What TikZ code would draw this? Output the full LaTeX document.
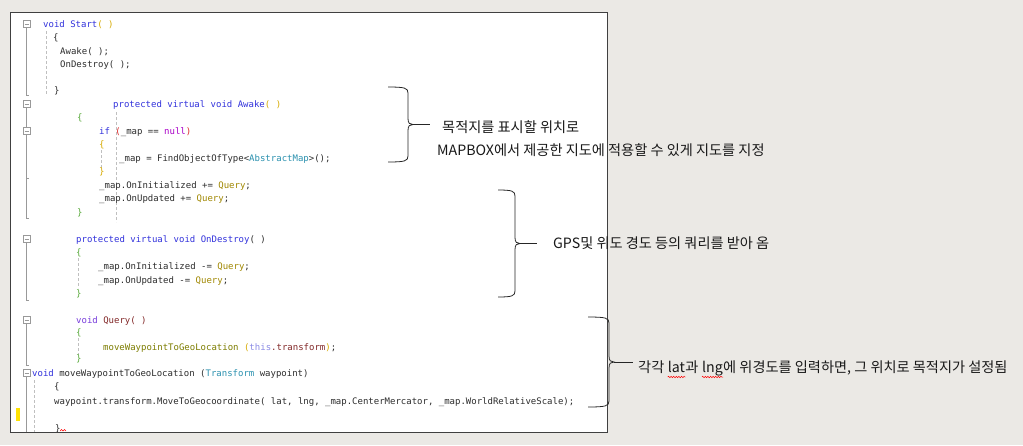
\documentclass[tikz,border=0pt]{standalone}
\usepackage{fontspec}
\setmonofont{DejaVu Sans Mono}
\newfontfamily\kr{Noto Sans CJK KR}
\usetikzlibrary{decorations.pathmorphing}

\definecolor{paper}{RGB}{235,233,229}
\definecolor{ink}{RGB}{45,45,45}
\definecolor{kwblue}{RGB}{50,50,220}
\definecolor{vpurple}{RGB}{120,60,220}
\definecolor{gold}{RGB}{215,170,0}
\definecolor{bgreen}{RGB}{90,170,60}
\definecolor{tyteal}{RGB}{43,145,175}
\definecolor{evolive}{RGB}{160,135,0}
\definecolor{fnolive}{RGB}{125,125,0}
\definecolor{nupurple}{RGB}{170,0,200}
\definecolor{dred}{RGB}{130,40,40}
\definecolor{thlav}{RGB}{140,140,230}
\definecolor{pred}{RGB}{220,40,40}

\newcommand\ckw[1]{\textcolor{kwblue}{#1}}
\newcommand\cvo[1]{\textcolor{vpurple}{#1}}
\newcommand\cpa[1]{\textcolor{gold}{#1}}
\newcommand\cbr[1]{\textcolor{bgreen}{#1}}
\newcommand\cty[1]{\textcolor{tyteal}{#1}}
\newcommand\cev[1]{\textcolor{evolive}{#1}}
\newcommand\cfn[1]{\textcolor{fnolive}{#1}}
\newcommand\cnu[1]{\textcolor{nupurple}{#1}}
\newcommand\cdr[1]{\textcolor{dred}{#1}}
\newcommand\cth[1]{\textcolor{thlav}{#1}}
\newcommand\cre[1]{\textcolor{pred}{#1}}

% right brace: tip name, x left, x bar, y top, y bottom
\newcommand\notebrace[5]{%
  \draw[brk] (#2,#4) .. controls ({#3-3},#4) and (#3,{#4+1}) .. (#3,{#4+6})
    -- (#3,{(#4+#5)/2-6}) .. controls (#3,{(#4+#5)/2-1}) and ({#3+2},{(#4+#5)/2}) .. ({#3+5},{(#4+#5)/2})
    .. controls ({#3+2},{(#4+#5)/2}) and (#3,{(#4+#5)/2+1}) .. (#3,{(#4+#5)/2+6})
    -- (#3,{#5-6}) .. controls (#3,{#5-1}) and ({#3-3},#5) .. (#2,#5);
  \coordinate (#1) at ({#3+5},{(#4+#5)/2});}

\begin{document}
\begin{tikzpicture}[x=1pt,y=-1pt,
    code/.style={anchor=base west,inner sep=0,text=ink,font=\ttfamily\fontsize{9}{9}\selectfont},
    note/.style={anchor=base west,inner sep=0,text=black!90,font=\kr\fontsize{14.2}{14.2}\selectfont},
    brk/.style={line width=0.8pt,black!85},
    spell/.style={red,line width=0.5pt,decorate,decoration={snake,amplitude=0.7pt,segment length=2.6pt}},
    guide/.style={densely dashed,black!25,line width=0.6pt},
    fold/.style={black!40,line width=0.6pt},
    foldbox/.style={draw=black!40,fill=white,line width=0.5pt,minimum size=7pt,inner sep=0}]
    \useasboundingbox (0,0) rectangle (1023,445);
    \fill[paper] (0,0) rectangle (1023,445);
    \fill[white] (10,12) rectangle (607,432);

    % editor gutter
    \draw[fold] (26.5,24) -- (26.5,95) -- (29,95);
    \draw[fold] (26.5,104) -- (26.5,218) -- (29,218) (26.5,178) -- (29,178);
    \draw[fold] (26.5,239) -- (26.5,300) -- (29,300);
    \draw[fold] (26.5,320) -- (26.5,365) -- (29,365);
    \draw[fold] (26.5,373) -- (26.5,432);
    \foreach \y [count=\i] in {24,104,131,239,320,373} {
        \node[foldbox] (F\i) at (26.5,\y) {};
        \draw[fold] (24.5,\y) -- (28.5,\y);
    }
    \draw[guide] (46,31) -- (46,95);
    \draw[guide] (116,112) -- (116,222);
    \draw[guide] (101,150) -- (101,168);
    \draw[guide] (78,258) -- (78,288);
    \draw[guide] (78,338) -- (78,355);
    \draw[guide] (34,380) -- (34,432);
    \fill[yellow!85!orange] (16,408) rectangle (20,421);

    \begin{scope}
    \clip (10,12) rectangle (607,432);
    \node[code] (C0) at (43,27) {\ckw{void Start}\cpa{( )}};
    \node[code] (C1) at (53,40) {\{};
    \node[code] (C2) at (60,54) {Awake( );};
    \node[code] (C3) at (60,67) {OnDestroy( );};
    \node[code] (C4) at (54,93) {\}};
    \node[code] (C5) at (113,107) {\ckw{protected virtual void Awake}\cpa{( )}};
    \node[code] (C6) at (77,120) {\cbr{\{}};
    \node[code] (C7) at (99,134) {\ckw{if} \cre{(}\_map == \cnu{null}\cre{)}};
    \node[code] (C8) at (99,147) {\cpa{\{}};
    \node[code] (C9) at (119,161) {\_map = FindObjectOfType<\cty{AbstractMap}>();};
    \node[code] (C10) at (99,174) {\cpa{\}}};
    \node[code] (C11) at (99,188) {\_map.OnInitialized += \cev{Query};};
    \node[code] (C12) at (99,201) {\_map.OnUpdated += \cev{Query};};
    \node[code] (C13) at (77,215) {\cbr{\}}};
    \node[code] (C14) at (76,242) {\ckw{protected virtual void OnDestroy}( )};
    \node[code] (C15) at (76,255) {\cbr{\{}};
    \node[code] (C16) at (98,269) {\_map.OnInitialized -= \cev{Query};};
    \node[code] (C17) at (98,283) {\_map.OnUpdated -= \cev{Query};};
    \node[code] (C18) at (76,296) {\cbr{\}}};
    \node[code] (C19) at (76,323) {\cvo{void} \cdr{Query( )}};
    \node[code] (C20) at (76,335) {\cbr{\{}};
    \node[code] (C21) at (103,350) {\cfn{moveWaypointToGeoLocation} \cpa{(}\cth{this}\cdr{.transform}\cpa{)};};
    \node[code] (C22) at (76,361) {\cbr{\}}};
    \node[code] (C23) at (32,376) {\ckw{void} moveWaypointToGeoLocation (\cty{Transform} waypoint)};
    \node[code] (C24) at (54,389) {\{};
    \node[code] (C25) at (54,404) {waypoint.transform.MoveToGeocoordinate( lat, lng, \_map.CenterMercator, \_map.WorldRelativeScale);};
    \node[code] (C26) at (55,431) {\}};
    \draw[red,line width=0.5pt] (60,431) -- (61.5,429.5) -- (63,431) -- (64.5,429.5) -- (66,431);
    \end{scope}
    \draw[black!75,line width=0.9pt] (10,12) rectangle (607,432);

    % notes
    \node[note] (N0) at (442,132.5) {목적지를 표시할 위치로};
    \node[note] (N1) at (437,155.5) {MAPBOX에서 제공한 지도에 적용할 수 있게 지도를 지정};
    \node[note] (N2) at (553,248.5) {GPS및 위도 경도 등의 쿼리를 받아 옴};
    \node[note] (N3) at (638,372.5) {각각\ \null};
    \node[note] (W0) at (N3.base east) {lat};
    \node[note] (N4) at (W0.base east) {과\ \null};
    \node[note] (W1) at (N4.base east) {lng};
    \node[note] (N5) at (W1.base east) {에 위경도를 입력하면, 그 위치로 목적지가 설정됨};
    \draw[spell] ([yshift=-4.5pt]W0.base west) -- ([yshift=-4.5pt]W0.base east);
    \draw[spell] ([yshift=-4.5pt]W1.base west) -- ([yshift=-4.5pt]W1.base east);

    \notebrace{B0}{388}{408}{87}{162}
    \notebrace{B1}{498}{515}{190}{297}
    \notebrace{B2}{588}{609}{317}{407}
    \draw[brk,shorten >=12pt] (B0) -- (B0 -| N0.west);
    \draw[brk,shorten >=16pt] (B1) -- (B1 -| N2.west);
    \draw[brk,shorten >=5pt] (B2) -- (B2 -| N3.west);
\end{tikzpicture}
\end{document}
